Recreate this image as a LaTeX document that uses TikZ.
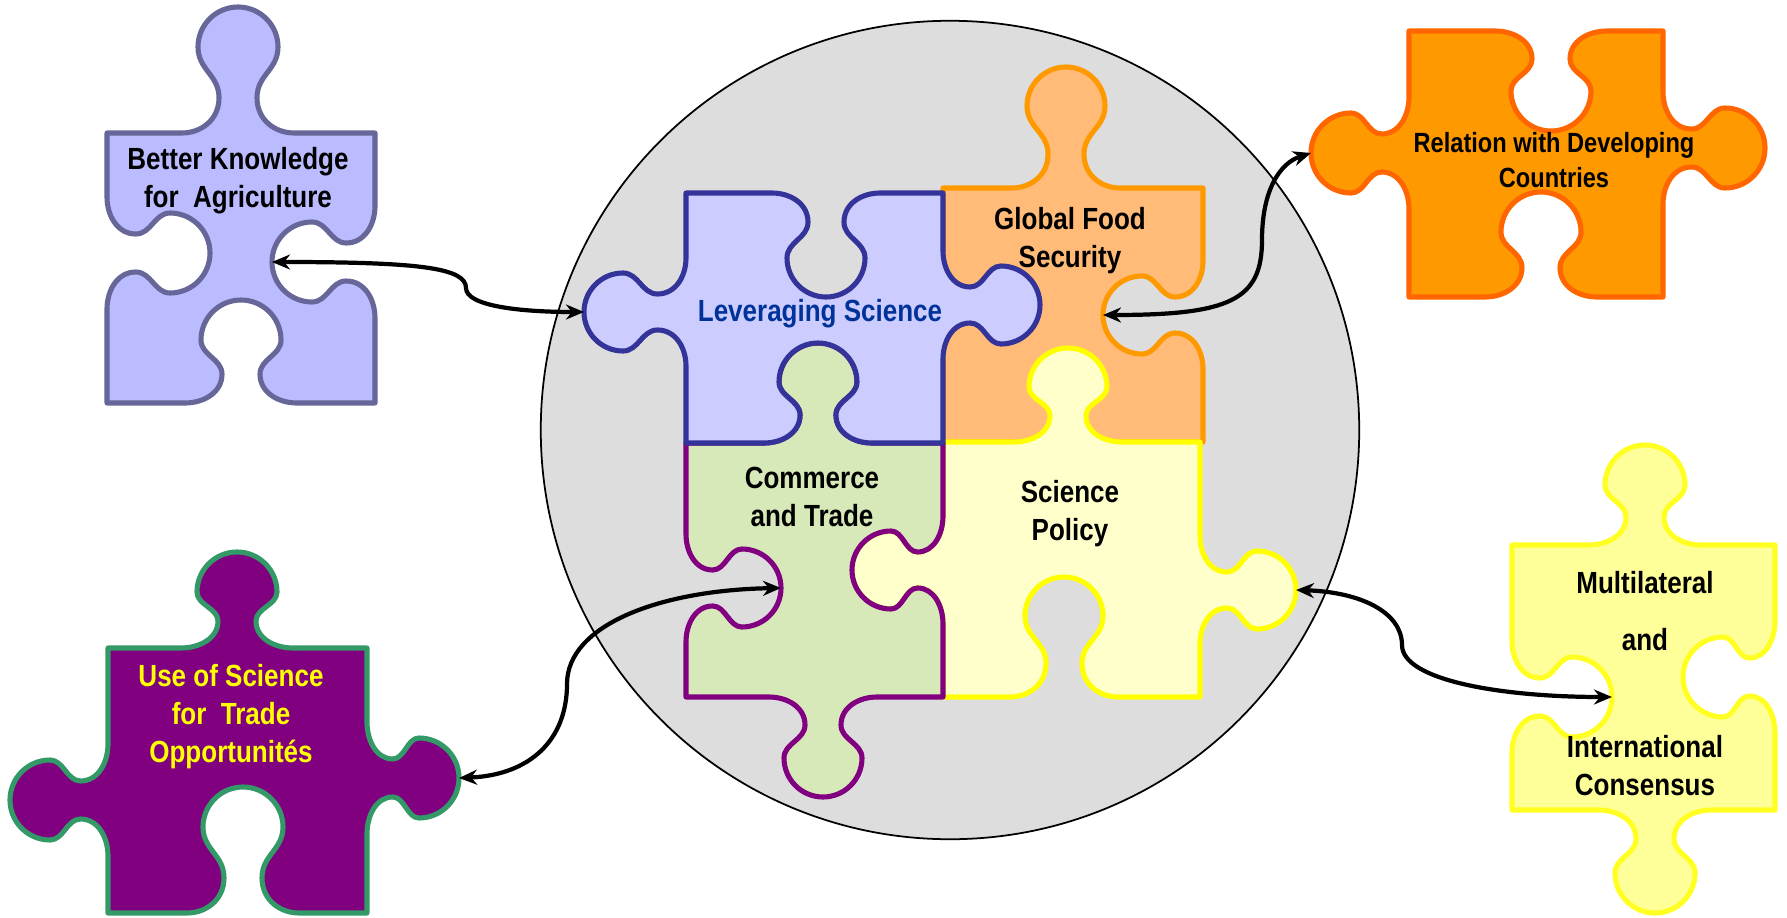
\documentclass[tikz,border=0pt]{standalone}
\usepackage{fontspec}
\setmainfont{Liberation Sans}[FakeStretch=0.85]
\usepackage{tikz}
\usetikzlibrary{arrows.meta}
\definecolor{bkfill}{HTML}{BBBBFF}
\definecolor{bkline}{HTML}{666699}
\definecolor{lsfill}{HTML}{CCCCFF}
\definecolor{lsline}{HTML}{333399}
\definecolor{lstext}{HTML}{003399}
\definecolor{gffill}{HTML}{FFBB77}
\definecolor{gfline}{HTML}{FF9900}
\definecolor{ctfill}{HTML}{D7E9B9}
\definecolor{ctline}{HTML}{800080}
\definecolor{spfill}{HTML}{FFFFCC}
\definecolor{spline}{HTML}{FFFF00}
\definecolor{rdfill}{HTML}{FF9900}
\definecolor{rdline}{HTML}{FF6600}
\definecolor{mlfill}{HTML}{FFFF99}
\definecolor{mlline}{HTML}{FFFF22}
\definecolor{usfill}{HTML}{800080}
\definecolor{usline}{HTML}{339966}
\definecolor{ustext}{HTML}{FFFF00}
\definecolor{hubfill}{HTML}{DDDDDD}
% point (a,b) of a knob: a along the side, b outwards
\pgfmathdeclarefunction{pzx}{6}{\pgfmathparse{#3+(#1)*(#4)+(#6)*(#2)*(#5)}}
\pgfmathdeclarefunction{pzy}{6}{\pgfmathparse{#3+(#1)*(#5)-(#6)*(#2)*(#4)}}
% knob: centre x, centre y, side direction ux, uy, +1 tab / -1 blank, depth
\newcommand\pzk[6]{%
  -- ({pzx(-\pzS,0,#1,#3,#4,#5)},{pzy(-\pzS,0,#2,#3,#4,#5)})
  .. controls ({pzx(-(\pzS+\pzN)/2,0,#1,#3,#4,#5)},{pzy(-(\pzS+\pzN)/2,0,#2,#3,#4,#5)})
  and ({pzx(-\pzN,0.1*#6,#1,#3,#4,#5)},{pzy(-\pzN,0.1*#6,#2,#3,#4,#5)})
  .. ({pzx(-\pzN,0.28*#6,#1,#3,#4,#5)},{pzy(-\pzN,0.28*#6,#2,#3,#4,#5)})
  .. controls ({pzx(-\pzN,0.604*#6-0.45*\pzR,#1,#3,#4,#5)},{pzy(-\pzN,0.604*#6-0.45*\pzR,#2,#3,#4,#5)})
  and ({pzx(-\pzR,0.676*#6-0.55*\pzR,#1,#3,#4,#5)},{pzy(-\pzR,0.676*#6-0.55*\pzR,#2,#3,#4,#5)})
  .. ({pzx(-\pzR,#6-\pzR,#1,#3,#4,#5)},{pzy(-\pzR,#6-\pzR,#2,#3,#4,#5)})
  .. controls ({pzx(-\pzR,#6-0.448*\pzR,#1,#3,#4,#5)},{pzy(-\pzR,#6-0.448*\pzR,#2,#3,#4,#5)})
  and ({pzx(-0.552*\pzR,#6,#1,#3,#4,#5)},{pzy(-0.552*\pzR,#6,#2,#3,#4,#5)})
  .. ({pzx(0,#6,#1,#3,#4,#5)},{pzy(0,#6,#2,#3,#4,#5)})
  .. controls ({pzx(0.552*\pzR,#6,#1,#3,#4,#5)},{pzy(0.552*\pzR,#6,#2,#3,#4,#5)})
  and ({pzx(\pzR,#6-0.448*\pzR,#1,#3,#4,#5)},{pzy(\pzR,#6-0.448*\pzR,#2,#3,#4,#5)})
  .. ({pzx(\pzR,#6-\pzR,#1,#3,#4,#5)},{pzy(\pzR,#6-\pzR,#2,#3,#4,#5)})
  .. controls ({pzx(\pzR,0.676*#6-0.55*\pzR,#1,#3,#4,#5)},{pzy(\pzR,0.676*#6-0.55*\pzR,#2,#3,#4,#5)})
  and ({pzx(\pzN,0.604*#6-0.45*\pzR,#1,#3,#4,#5)},{pzy(\pzN,0.604*#6-0.45*\pzR,#2,#3,#4,#5)})
  .. ({pzx(\pzN,0.28*#6,#1,#3,#4,#5)},{pzy(\pzN,0.28*#6,#2,#3,#4,#5)})
  .. controls ({pzx(\pzN,0.1*#6,#1,#3,#4,#5)},{pzy(\pzN,0.1*#6,#2,#3,#4,#5)})
  and ({pzx((\pzS+\pzN)/2,0,#1,#3,#4,#5)},{pzy((\pzS+\pzN)/2,0,#2,#3,#4,#5)})
  .. ({pzx(\pzS,0,#1,#3,#4,#5)},{pzy(\pzS,0,#2,#3,#4,#5)})
}
\tikzset{
    piece/.style={
        line width=1.45pt,
        line join=round
    },
    bkpiece/.style={piece, draw=bkline, fill=bkfill},
    lspiece/.style={piece, draw=lsline, fill=lsfill},
    gfpiece/.style={piece, draw=gfline, fill=gffill},
    ctpiece/.style={piece, draw=ctline, fill=ctfill},
    sppiece/.style={piece, draw=spline, fill=spfill},
    rdpiece/.style={piece, draw=rdline, fill=rdfill},
    mlpiece/.style={piece, draw=mlline, fill=mlfill},
    uspiece/.style={piece, draw=usline, fill=usfill},
    pztext/.style={
        font=\bfseries\fontsize{8.7}{10.8}\selectfont,
        align=center,
        inner sep=0pt
    },
    hub/.style={
        circle,
        draw=black,
        line width=0.5pt,
        fill=hubfill,
        minimum size=8.18cm,
        inner sep=0pt
    },
    link/.style={
        draw=black,
        line width=1.2pt,
        {Stealth[length=1.8mm,width=1.5mm]}-{Stealth[length=1.8mm,width=1.5mm]}
    }
}
\begin{document}
\begin{tikzpicture}[x=0.01cm, y=-0.01cm]
\useasboundingbox (0,0) rectangle (1787,918);

% Grey disc
\node[hub] (hub) at (950,430) {};

% Central pieces
\def\pzR{39}\def\pzN{18}\def\pzS{54}
\draw[gfpiece] (943,188) \pzk{1066}{188}{1}{0}{1}{121} -- (1203,188)
  \pzk{1203}{315}{0}{1}{-1}{100} -- (1203,442) -- (943,442) -- cycle;
\draw[sppiece] (943,442) \pzk{1068}{442}{1}{0}{1}{94} -- (1200,442)
  \pzk{1200}{590}{0}{1}{1}{96} -- (1200,697)
  \pzk{1064}{697}{-1}{0}{-1}{120} -- (943,697)
  \pzk{943}{570}{0}{-1}{1}{91} -- cycle;
\draw[ctpiece] (686,443) \pzk{818}{443}{1}{0}{1}{100} -- (943,443)
  \pzk{943}{570}{0}{1}{-1}{91} -- (943,697)
  \pzk{823}{697}{-1}{0}{1}{100} -- (686,697)
  \pzk{686}{588}{0}{-1}{-1}{95} -- cycle;
\draw[lspiece] (686,193) \pzk{826}{193}{1}{0}{-1}{104} -- (943,193)
  \pzk{943}{305}{0}{1}{1}{97} -- (943,443)
  \pzk{818}{443}{-1}{0}{-1}{100} -- (686,443)
  \pzk{686}{312}{0}{-1}{1}{102} -- cycle;

% Outer pieces
\def\pzR{40}\def\pzN{19}\def\pzS{56}
\draw[bkpiece] (107,133) \pzk{238}{133}{1}{0}{1}{126} -- (375,133)
  \pzk{375}{262}{0}{1}{-1}{103} -- (375,403)
  \pzk{241}{403}{-1}{0}{-1}{103} -- (107,403)
  \pzk{107}{253}{0}{-1}{-1}{103} -- cycle;
\draw[rdpiece] (1409,31) \pzk{1551}{31}{1}{0}{-1}{100} -- (1663,31)
  \pzk{1663}{148}{0}{1}{1}{102} -- (1663,297)
  \pzk{1541}{297}{-1}{0}{-1}{105} -- (1409,297)
  \pzk{1409}{153}{0}{-1}{1}{98} -- cycle;
\draw[mlpiece] (1512,545) \pzk{1645}{545}{1}{0}{1}{100} -- (1775,545)
  \pzk{1775}{677}{0}{1}{-1}{92} -- (1775,810)
  \pzk{1655}{810}{-1}{0}{1}{103} -- (1512,810)
  \pzk{1512}{697}{0}{-1}{-1}{100} -- cycle;
\draw[uspiece] (108,648) \pzk{237}{648}{1}{0}{1}{96} -- (367,648)
  \pzk{367}{778}{0}{1}{1}{92} -- (367,913)
  \pzk{243}{913}{-1}{0}{-1}{126} -- (108,913)
  \pzk{108}{800}{0}{-1}{1}{98} -- cycle;

% Texts
\node[pztext] (bk_text) at (238,181) {Better Knowledge\\for\ \ Agriculture};
\node[pztext, text=lstext] (ls_text) at (820,314) {Leveraging Science};
\node[pztext] (gf_text) at (1070,241) {Global Food\\Security};
\node[pztext] (ct_text) at (812,497) {Commerce\\and Trade};
\node[pztext] (sp_text) at (1070,514) {Science\\Policy};
\node[pztext, font=\bfseries\fontsize{7.9}{9.96}\selectfont] (rd_text) at (1554,160) {Relation with Developing\\Countries};
\node[pztext] (ml_text) at (1645,684) {Multilateral\\[0.19cm]and\\[0.69cm]International\\Consensus};
\node[pztext, text=ustext] (us_text) at (231,717) {Use of Science\\for\ \ Trade\\Opportunités};

% Link ends
\coordinate (bk_east) at (272,262);
\coordinate (ls_west) at (584,312);
\coordinate (gf_east) at (1103,315);
\coordinate (rd_west) at (1311,153);
\coordinate (us_east) at (459,778);
\coordinate (ct_west) at (781,588);
\coordinate (sp_east) at (1296,590);
\coordinate (ml_west) at (1612,697);

% Links
\draw[link] (bk_east) .. controls (420,262) and (466,268) .. (466,288)
  .. controls (466,306) and (520,312) .. (ls_west);
\draw[link] (gf_east) .. controls (1230,315) and (1262,300) .. (1262,240)
  .. controls (1262,190) and (1280,163) .. (rd_west);
\draw[link] (us_east) .. controls (530,775) and (567,740) .. (567,684)
  .. controls (567,625) and (660,590) .. (ct_west);
\draw[link] (sp_east) .. controls (1360,592) and (1402,612) .. (1402,645)
  .. controls (1402,680) and (1500,697) .. (ml_west);

\end{tikzpicture}
\end{document}
